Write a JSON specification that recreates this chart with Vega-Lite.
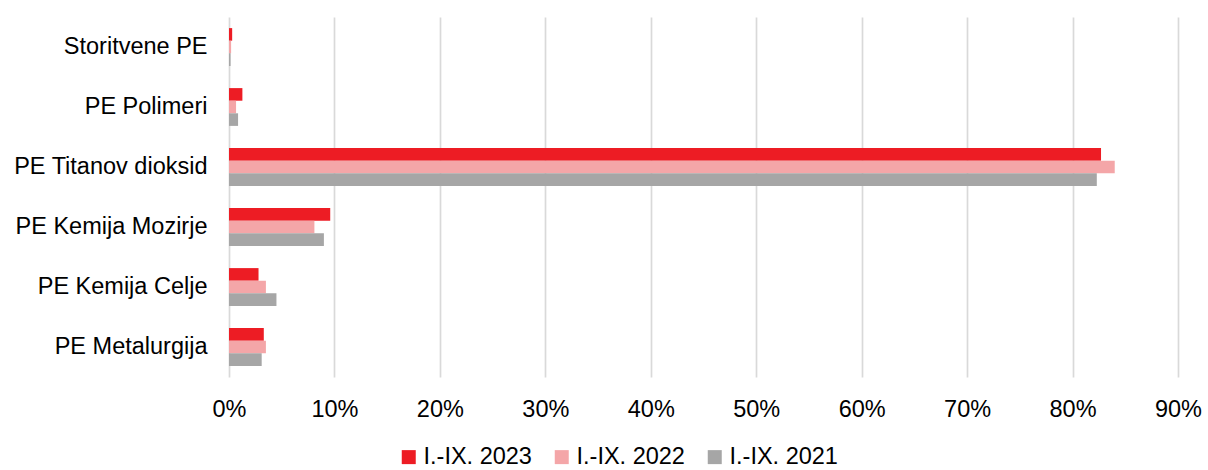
{
  "$schema": "https://vega.github.io/schema/vega-lite/v6.json",
  "width": 949,
  "height": 360,
  "autosize": "none",
  "padding": {"left": 229, "top": 17, "right": 30, "bottom": 93},
  "background": "white",
  "data": {
    "values": [
      {"enota": "Storitvene PE", "obdobje": "I.-IX. 2023", "delez": 0.003},
      {"enota": "Storitvene PE", "obdobje": "I.-IX. 2022", "delez": 0.002},
      {"enota": "Storitvene PE", "obdobje": "I.-IX. 2021", "delez": 0.0015},
      {"enota": "PE Polimeri", "obdobje": "I.-IX. 2023", "delez": 0.0127},
      {"enota": "PE Polimeri", "obdobje": "I.-IX. 2022", "delez": 0.0067},
      {"enota": "PE Polimeri", "obdobje": "I.-IX. 2021", "delez": 0.0086},
      {"enota": "PE Titanov dioksid", "obdobje": "I.-IX. 2023", "delez": 0.827},
      {"enota": "PE Titanov dioksid", "obdobje": "I.-IX. 2022", "delez": 0.840},
      {"enota": "PE Titanov dioksid", "obdobje": "I.-IX. 2021", "delez": 0.823},
      {"enota": "PE Kemija Mozirje", "obdobje": "I.-IX. 2023", "delez": 0.096},
      {"enota": "PE Kemija Mozirje", "obdobje": "I.-IX. 2022", "delez": 0.081},
      {"enota": "PE Kemija Mozirje", "obdobje": "I.-IX. 2021", "delez": 0.090},
      {"enota": "PE Kemija Celje", "obdobje": "I.-IX. 2023", "delez": 0.028},
      {"enota": "PE Kemija Celje", "obdobje": "I.-IX. 2022", "delez": 0.035},
      {"enota": "PE Kemija Celje", "obdobje": "I.-IX. 2021", "delez": 0.045},
      {"enota": "PE Metalurgija", "obdobje": "I.-IX. 2023", "delez": 0.033},
      {"enota": "PE Metalurgija", "obdobje": "I.-IX. 2022", "delez": 0.035},
      {"enota": "PE Metalurgija", "obdobje": "I.-IX. 2021", "delez": 0.031}
    ]
  },
  "mark": {"type": "bar", "cornerRadius": 0},
  "encoding": {
    "y": {
      "field": "enota",
      "type": "nominal",
      "sort": ["Storitvene PE", "PE Polimeri", "PE Titanov dioksid", "PE Kemija Mozirje", "PE Kemija Celje", "PE Metalurgija"],
      "scale": {"paddingInner": 0.37, "paddingOuter": 0.185},
      "axis": {
        "title": null,
        "domain": false,
        "ticks": false,
        "labelPadding": 22,
        "labelFont": "Liberation Sans",
        "labelFontSize": 23.5,
        "labelColor": "#000000",
        "labelLimit": 300
      }
    },
    "yOffset": {
      "field": "obdobje",
      "type": "nominal",
      "sort": ["I.-IX. 2023", "I.-IX. 2022", "I.-IX. 2021"],
      "scale": {"paddingInner": 0, "paddingOuter": 0}
    },
    "x": {
      "field": "delez",
      "type": "quantitative",
      "scale": {"domain": [0, 0.9], "nice": false},
      "axis": {
        "title": null,
        "format": ".0%",
        "values": [0, 0.1, 0.2, 0.3, 0.4, 0.5, 0.6, 0.7, 0.8, 0.9],
        "domain": false,
        "ticks": false,
        "grid": true,
        "gridColor": "#D9D9D9",
        "gridWidth": 1.7,
        "labelFlush": false,
        "labelPadding": 20,
        "labelFont": "Liberation Sans",
        "labelFontSize": 23.5,
        "labelColor": "#000000"
      }
    },
    "color": {
      "field": "obdobje",
      "type": "nominal",
      "scale": {
        "domain": ["I.-IX. 2023", "I.-IX. 2022", "I.-IX. 2021"],
        "range": ["#ED1C24", "#F4A6A8", "#A6A6A6"]
      },
      "legend": {
        "title": null,
        "orient": "none",
        "direction": "horizontal",
        "legendX": 168,
        "legendY": 428,
        "symbolType": "square",
        "symbolSize": 196,
        "symbolStrokeWidth": 0,
        "labelFont": "Liberation Sans",
        "labelFontSize": 23.5,
        "labelColor": "#000000",
        "labelOffset": 3,
        "columnPadding": 18
      }
    }
  },
  "config": {
    "view": {"stroke": null},
    "axis": {"gridOpacity": 1}
  }
}
